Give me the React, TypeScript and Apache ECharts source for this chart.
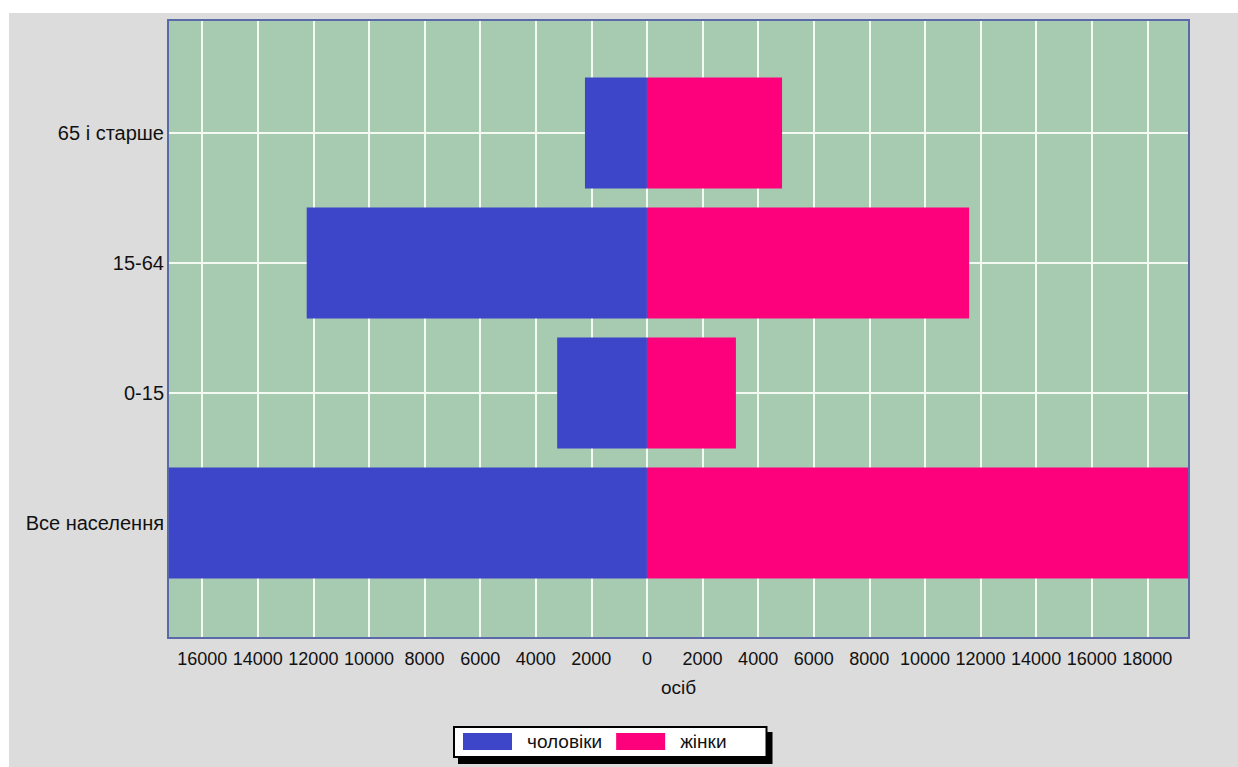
import React, { useEffect, useRef } from "react";
import * as echarts from "echarts";

// Categories from bottom to top of the chart
const categories = ["Все населення", "0-15", "15-64", "65 і старше"];
const seriesNames = ["чоловіки", "жінки"];
const menValues = [17230, 3230, 12240, 2230];
const womenValues = [19500, 3200, 11590, 4860];
const axisName = "осіб";
const tickStep = 2000;

const FONT = "'Liberation Sans', Arial, sans-serif";
const BLUE = "#3d45c8";
const PINK = "#fd007c";
const BORDER = "#5a6aa8";

export default function App() {
  const ref = useRef<HTMLDivElement>(null);
  useEffect(() => {
    if (!ref.current) return;
    const chart = echarts.init(ref.current, null, { renderer: "svg" });
    const xMin = -Math.max(...menValues);
    const xMax = Math.max(...womenValues);
    const W = 1238;
    const H = 767;
    const gL = 168, gR = 1189, gT = 20, gB = 638;
    const option: any = {
      animation: false,
      backgroundColor: "#dcdcdc",
      graphic: [
        { type: "rect", shape: { x: 0, y: 0, width: W, height: 13 }, style: { fill: "#ffffff" }, silent: true },
        { type: "rect", shape: { x: 0, y: 0, width: 9, height: H }, style: { fill: "#ffffff" }, silent: true },
        {
          type: "rect",
          z: 100,
          silent: true,
          shape: { x: gL, y: gT, width: gR - gL, height: gB - gT },
          style: { fill: "none", stroke: BORDER, lineWidth: 2 },
        },
      ],
      legend: {
        data: seriesNames,
        left: 454,
        top: 727,
        icon: "rect",
        itemWidth: 49,
        itemHeight: 17,
        itemGap: 14,
        padding: [5, 40, 6, 9],
        backgroundColor: "#ffffff",
        borderColor: "#000000",
        borderWidth: 2,
        shadowColor: "#000000",
        shadowOffsetX: 5,
        shadowOffsetY: 6,
        shadowBlur: 0,
        textStyle: { fontFamily: FONT, fontSize: 19, color: "#111", padding: [0, 0, 0, 10] },
      },
      grid: [
        {
          left: gL,
          right: W - gR,
          top: gT,
          bottom: H - gB,
          show: true,
          backgroundColor: "#a7cbb1",
          borderColor: BORDER,
          borderWidth: 2,
          z: 0,
        },
        {
          left: gL,
          right: W - gR,
          top: 133,
          bottom: H - 523,
          show: false,
        },
      ],
      xAxis: [
        {
          type: "value",
          gridIndex: 0,
          min: xMin,
          max: xMax,
          splitNumber: 18,
          minInterval: tickStep,
          maxInterval: tickStep,
          axisLine: { show: false },
          axisTick: { show: false },
          splitLine: {
            show: true,
            showMinLine: false,
            showMaxLine: false,
            lineStyle: { color: "#f2faf2", width: 2 },
          },
          axisLabel: {
            show: true,
            margin: 12,
            showMinLabel: false,
            showMaxLabel: false,
            fontFamily: FONT,
            fontSize: 18,
            color: "#111",
            formatter: (v: number) => (Math.abs(v) % tickStep === 0 ? String(Math.abs(v)) : ""),
          },
          name: axisName,
          nameLocation: "middle",
          nameGap: 40,
          nameTextStyle: { fontFamily: FONT, fontSize: 19, color: "#111" },
        },
        {
          type: "value",
          gridIndex: 1,
          min: xMin,
          max: xMax,
          show: false,
          splitLine: { show: false },
        },
      ],
      yAxis: [
        { type: "value", gridIndex: 0, show: false, splitLine: { show: false } },
        {
          type: "category",
          gridIndex: 1,
          data: categories,
          boundaryGap: false,
          axisLine: { show: false },
          axisTick: { show: false },
          splitLine: { show: true, lineStyle: { color: "#f2faf2", width: 2 } },
          axisLabel: { margin: 4, fontFamily: FONT, fontSize: 20, color: "#111" },
        },
      ],
      series: [
        {
          name: seriesNames[0],
          type: "bar",
          xAxisIndex: 1,
          yAxisIndex: 1,
          data: menValues.map((v) => -v),
          barWidth: 111,
          barGap: "-100%",
          clip: false,
          itemStyle: { color: BLUE },
          z: 3,
        },
        {
          name: seriesNames[1],
          type: "bar",
          xAxisIndex: 1,
          yAxisIndex: 1,
          data: womenValues,
          barWidth: 111,
          barGap: "-100%",
          clip: false,
          itemStyle: { color: PINK },
          z: 3,
        },
      ],
    };
    chart.setOption(option);
    return () => chart.dispose();
  }, []);
  return (
    <div
      ref={ref}
      style={{ position: "absolute", left: 0, top: 0, width: 1238, height: 767 }}
    />
  );
}
